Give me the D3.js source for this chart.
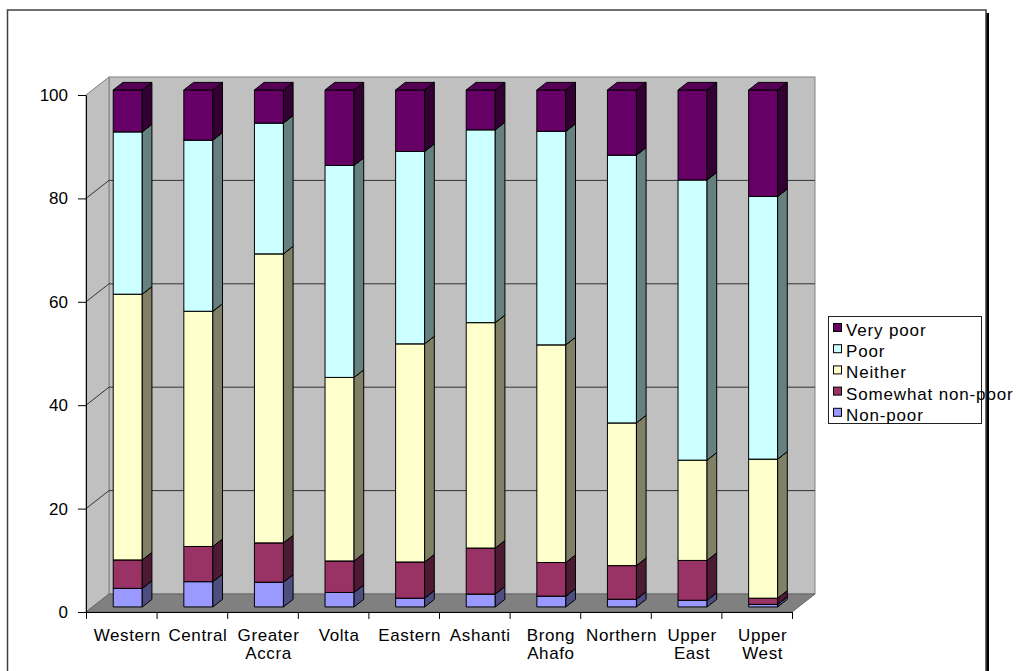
<!DOCTYPE html>
<html>
<head>
<meta charset="utf-8">
<script src="https://cdn.jsdelivr.net/npm/d3@7"></script>
<style>
  html, body { margin: 0; padding: 0; background: #fff; }
  svg { display: block; font-family: "Liberation Sans", Arial, sans-serif; }
</style>
</head>
<body>
<svg id="chart" width="1016" height="671"></svg>
<script>
// ---- data ----
const categories = ["Western", "Central", "Greater Accra", "Volta", "Eastern", "Ashanti", "Brong Ahafo", "Northern", "Upper East", "Upper West"];
const seriesNames = ["Non-poor", "Somewhat non-poor", "Neither", "Poor", "Very poor"];
const nonPoor         = [3.6, 4.9, 4.8, 2.8, 1.7, 2.5, 2.1, 1.5, 1.3, 0.5];
const somewhatNonPoor = [5.5, 6.8, 7.6, 6.1, 7.0, 8.9, 6.5, 6.5, 7.7, 1.2];
const neither         = [51.4, 45.5, 55.9, 35.5, 42.2, 43.6, 42.1, 27.6, 19.4, 26.9];
const poor            = [31.4, 33.1, 25.3, 41.0, 37.2, 37.3, 41.3, 51.8, 54.2, 50.8];
const veryPoor        = [8.1, 9.7, 6.4, 14.6, 11.9, 7.7, 8.0, 12.6, 17.4, 20.6];
const yTicks = [0, 20, 40, 60, 80, 100];

const frontColors = ["#9999ff", "#993366", "#ffffcc", "#ccffff", "#660066"];
const sideColors  = ["#4d4d80", "#4d1a33", "#808066", "#668080", "#330033"];
const topColors   = ["#7f7fd4", "#7a2952", "#d4d4aa", "#aad4d4", "#550055"];

// ---- build table ----
const seriesArrays = [nonPoor, somewhatNonPoor, neither, poor, veryPoor];
const table = categories.map((c, i) => {
  const row = { cat: c };
  seriesNames.forEach((s, j) => row[s] = seriesArrays[j][i]);
  return row;
});
const stacked = d3.stack().keys(seriesNames)(table);

// ---- geometry ----
const svg = d3.select("#chart");
const x0 = 86, x1 = 792, yBottom = 612, yTop = 95;
const DX = 23, DY = -18; // depth vector of floor
const bf = 0.28, bb = 0.70; // bar front/back depth fractions

const x = d3.scaleBand().domain(categories).range([x0, x1]).paddingInner(0.589).paddingOuter(0.2945);
const xi = d3.scaleLinear().domain([0, categories.length]).range([x0, x1]);
const y = d3.scaleLinear().domain([0, 100]).range([yBottom, yTop]);

// frame
svg.append("rect").attr("x", 986).attr("y", 13).attr("width", 3).attr("height", 700).attr("fill", "#000");
svg.append("rect").attr("x", 7.5).attr("y", 10).attr("width", 978.5).attr("height", 700)
  .attr("fill", "none").attr("stroke", "#404040").attr("stroke-width", 1.5);

// walls
const wallG = svg.append("g");
wallG.append("rect").attr("x", x0 + DX).attr("y", y(100) + DY)
  .attr("width", x1 - x0).attr("height", y(0) - y(100))
  .attr("fill", "#c0c0c0").attr("stroke", "#808080").attr("stroke-width", 1);
wallG.append("polygon")
  .attr("points", [[x0, y(0)], [x0, y(100)], [x0 + DX, y(100) + DY], [x0 + DX, y(0) + DY]].map(p => p.join(",")).join(" "))
  .attr("fill", "#c0c0c0").attr("stroke", "#808080").attr("stroke-width", 1);
yTicks.filter(v => v > 0 && v < 100).forEach(v => {
  wallG.append("line").attr("x1", x0 + DX).attr("x2", x1 + DX)
    .attr("y1", y(v) + DY).attr("y2", y(v) + DY).attr("stroke", "#333").attr("stroke-width", 1);
  wallG.append("line").attr("x1", x0).attr("x2", x0 + DX)
    .attr("y1", y(v)).attr("y2", y(v) + DY).attr("stroke", "#333").attr("stroke-width", 1);
});
wallG.append("polygon")
  .attr("points", [[x0, y(0)], [x1, y(0)], [x1 + DX, y(0) + DY], [x0 + DX, y(0) + DY]].map(p => p.join(",")).join(" "))
  .attr("fill", "#808080").attr("stroke", "#666").attr("stroke-width", 1);

// bars
const fdx = DX * bf, fdy = DY * bf;
const ddx = DX * (bb - bf), ddy = DY * (bb - bf);
const barG = svg.append("g");
categories.forEach((c, i) => {
  const xl = x(c) + fdx, xr = xl + x.bandwidth();
  stacked.forEach((s, j) => {
    const d = s[i];
    if (d[1] - d[0] <= 0) return;
    const yt = y(d[1]) + fdy, yb = y(d[0]) + fdy;
    const g = barG.append("g").attr("stroke", "#000").attr("stroke-width", 1).attr("stroke-linejoin", "round");
    g.append("rect").attr("x", xl).attr("y", yt).attr("width", xr - xl).attr("height", yb - yt).attr("fill", frontColors[j]);
    g.append("polygon").attr("points", [[xr, yt], [xr + ddx, yt + ddy], [xr + ddx, yb + ddy], [xr, yb]].map(p => p.join(",")).join(" "))
      .attr("fill", sideColors[j]);
    g.append("polygon").attr("points", [[xl, yt], [xl + ddx, yt + ddy], [xr + ddx, yt + ddy], [xr, yt]].map(p => p.join(",")).join(" "))
      .attr("fill", topColors[j]);
  });
});

// y axis
const yAxis = svg.append("g").attr("transform", `translate(${x0},0)`)
  .call(d3.axisLeft(y).tickValues(yTicks).tickSize(8).tickPadding(10).tickSizeOuter(0));
yAxis.select(".domain").attr("stroke", "#000");
yAxis.selectAll(".tick line").attr("stroke", "#000");
yAxis.selectAll("text").attr("font-size", 17).attr("fill", "#000").attr("font-family", "Liberation Sans, Arial, sans-serif");

// x axis
const xAxis = svg.append("g").attr("transform", `translate(0,${y(0)})`)
  .call(d3.axisBottom(xi).tickValues(d3.range(categories.length + 1)).tickSize(7).tickFormat("").tickSizeOuter(0));
xAxis.select(".domain").attr("stroke", "#000");
xAxis.selectAll(".tick line").attr("stroke", "#000");

const labG = svg.append("g").attr("font-size", 17).attr("letter-spacing", "0.6px").attr("fill", "#000").attr("text-anchor", "middle");
categories.forEach(c => {
  const words = c.split(" ");
  const t = labG.append("text").attr("x", x(c) + x.bandwidth() / 2 + 6).attr("y", 641);
  words.forEach((w, k) => {
    t.append("tspan").attr("x", x(c) + x.bandwidth() / 2 + 6).attr("dy", k === 0 ? 0 : 17.5).text(w);
  });
});

// legend
const legendItems = seriesNames.map((n, j) => ({ name: n, color: frontColors[j] })).reverse();
const lg = svg.append("g");
lg.append("rect").attr("x", 828.5).attr("y", 316.5).attr("width", 153).attr("height", 107)
  .attr("fill", "#fff").attr("stroke", "#222").attr("stroke-width", 1);
legendItems.forEach((it, k) => {
  const base = 336 + k * 21.2;
  lg.append("rect").attr("x", 833.5).attr("y", base - 12.5).attr("width", 8).attr("height", 8)
    .attr("fill", it.color).attr("stroke", "#000").attr("stroke-width", 1);
  lg.append("text").attr("x", 846).attr("y", base).attr("font-size", 17).attr("letter-spacing", "0.85px")
    .attr("fill", "#000").text(it.name);
});
</script>
</body>
</html>
